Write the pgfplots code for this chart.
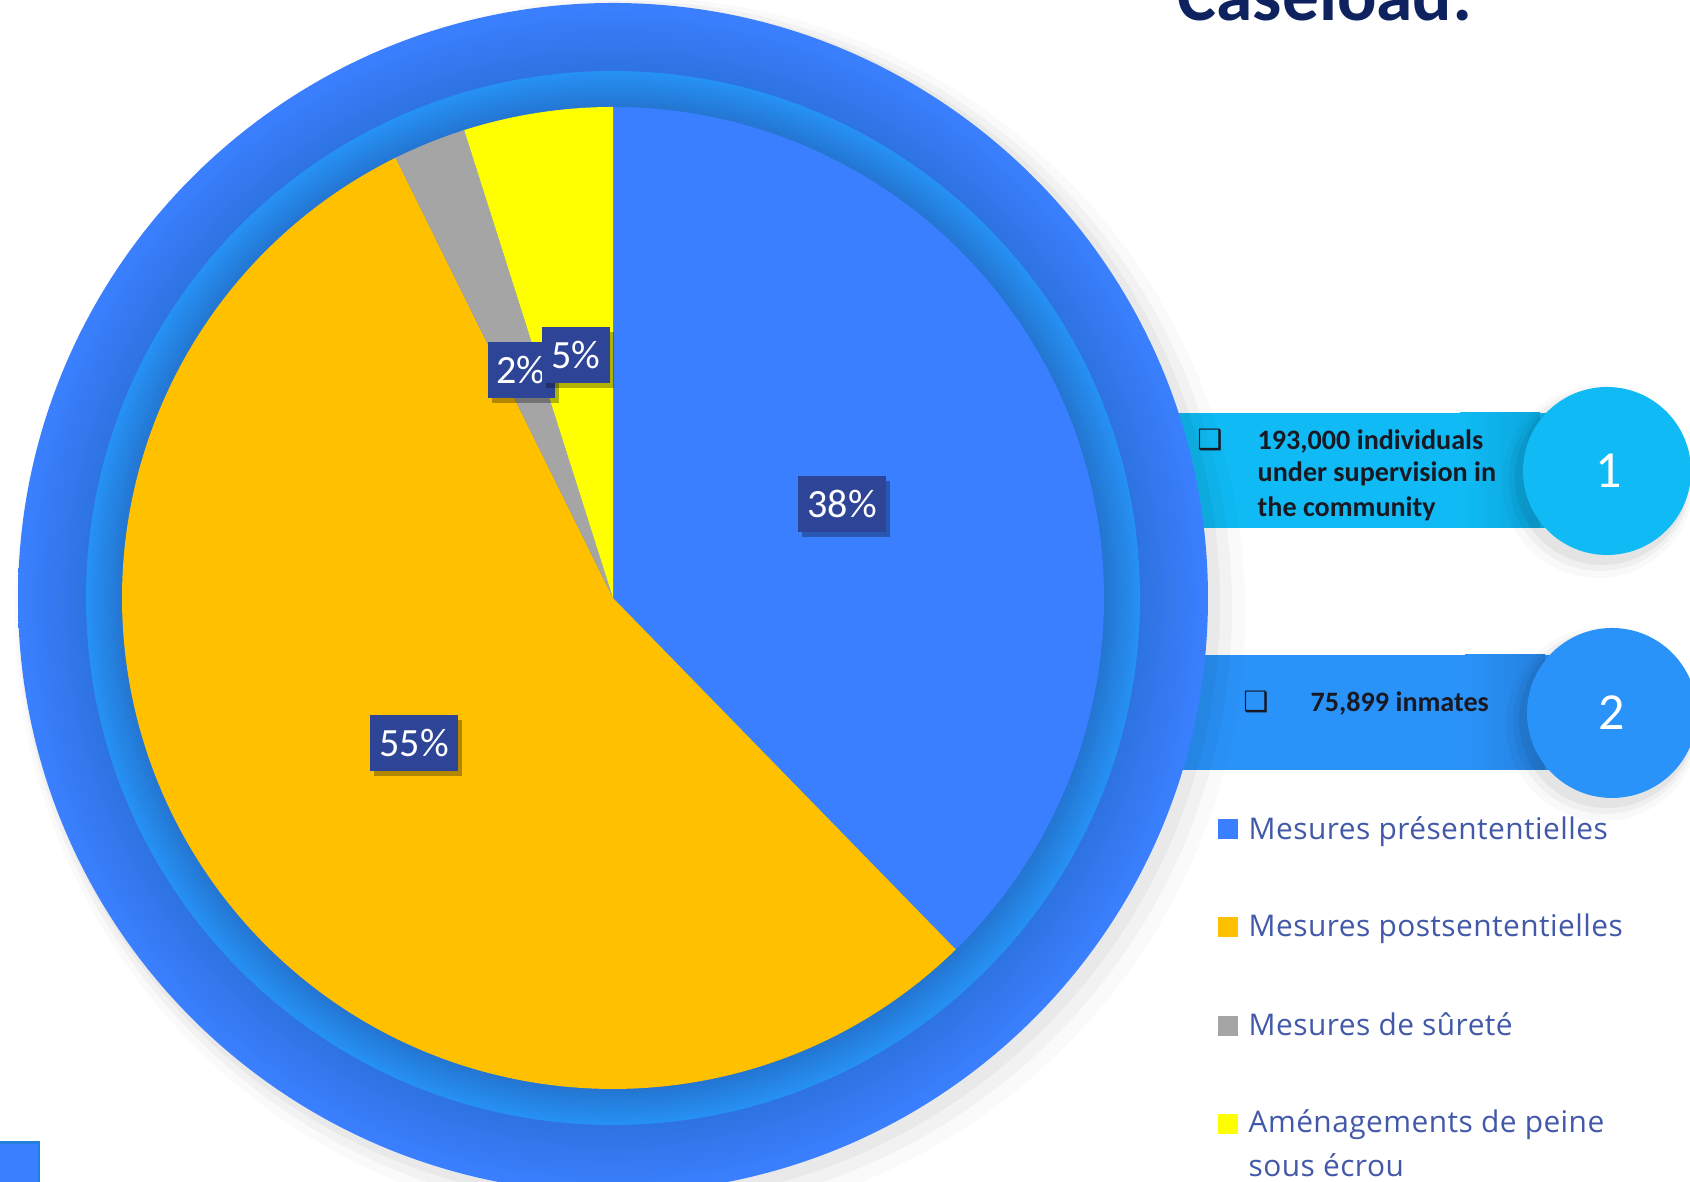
\documentclass[border=0pt]{standalone}
\usepackage{pgfplots}
\pgfplotsset{compat=1.18}
\usepackage{pgfplotstable}
\usetikzlibrary{shadows}
\usepackage{fontspec}
\setmainfont{Carlito}
\newfontfamily\osans[LetterSpace=1.5]{Open Sans}
\newfontfamily\djv{DejaVu Sans}
\definecolor{pieblue}{RGB}{58,127,255}
\definecolor{pieorange}{RGB}{255,192,0}
\definecolor{piegray}{RGB}{165,165,165}
\definecolor{pieyellow}{RGB}{255,255,0}
\definecolor{lblbox}{RGB}{46,68,150}
\definecolor{bandone}{RGB}{16,187,245}
\definecolor{bandonedark}{RGB}{12,165,220}
\definecolor{bandtwo}{RGB}{42,147,250}
\definecolor{bandtwodark}{RGB}{36,128,220}
\definecolor{legtext}{RGB}{66,88,168}
\definecolor{titlenavy}{RGB}{14,34,96}
\definecolor{bandtext}{RGB}{25,25,35}
\pgfdeclareradialshading{outerdisc}{\pgfpoint{0bp}{0bp}}{rgb(0bp)=(0.18,0.45,0.88); rgb(22.1bp)=(0.18,0.45,0.88); rgb(25bp)=(0.23,0.50,1.0); rgb(50bp)=(0.23,0.50,1.0)}
\pgfdeclareradialshading{ringdisc}{\pgfpoint{0bp}{0bp}}{rgb(0bp)=(0.14,0.46,0.82); rgb(23.3bp)=(0.14,0.46,0.82); rgb(25bp)=(0.15,0.57,0.96); rgb(50bp)=(0.15,0.57,0.96)}

\pgfplotstableread{
label value
pre 37.7
post 55.0
surete 2.4
amen 4.9
}\piedata
\pgfplotstablegetelem{0}{value}\of\piedata \let\vA\pgfplotsretval
\pgfplotstablegetelem{1}{value}\of\piedata \let\vB\pgfplotsretval
\pgfplotstablegetelem{2}{value}\of\piedata \let\vC\pgfplotsretval
\pgfplotstablegetelem{3}{value}\of\piedata \let\vD\pgfplotsretval
\pgfmathsetmacro\aA{90}
\pgfmathsetmacro\aB{\aA-3.6*\vA}
\pgfmathsetmacro\aC{\aB-3.6*\vB}
\pgfmathsetmacro\aD{\aC-3.6*\vC}
\pgfmathsetmacro\aE{\aD-3.6*\vD}
\newcommand\pct[1]{\pgfmathprintnumber[fixed,precision=0,assume math mode=true]{#1}\%}

\begin{document}%
\begin{tikzpicture}[
  lbl/.style={fill=lblbox, text=white, minimum height=0.56cm, inner sep=0pt,
    font=\fontsize{11.4pt}{13pt}\selectfont,
    drop shadow={shadow xshift=0.04cm, shadow yshift=-0.05cm, opacity=0.3, fill=black}},
  legtxt/.style={anchor=base west, inner sep=0pt, text=legtext, font=\osans\fontsize{8.5pt}{10pt}\selectfont},
  bandtxt/.style={anchor=base west, inner sep=0pt, text=bandtext, font=\bfseries\fontsize{8pt}{9.5pt}\selectfont},
]
\begin{axis}[
  scale only axis, width=16.9cm, height=11.82cm,
  xmin=0, xmax=1690, ymin=0, ymax=1182,
  hide axis, clip=true,
]
\coordinate (bl) at (axis cs:0,0);
\coordinate (tr) at (axis cs:1690,1182);
% bands behind the big circle
\fill[bandone] (axis cs:1150,654) rectangle (axis cs:1607,769);
\shade[left color=bandone, right color=bandonedark] (axis cs:1460,654) rectangle (axis cs:1540,769);
\fill[bandtwo] (axis cs:1150,412) rectangle (axis cs:1612,527);
\shade[left color=bandtwo, right color=bandtwodark] (axis cs:1465,412) rectangle (axis cs:1545,527);
% soft halo of big circle
\fill[black, opacity=0.02] (axis cs:630,570) circle[radius=6.15cm];
\fill[black, opacity=0.03] (axis cs:625,574) circle[radius=6.07cm];
\fill[black, opacity=0.04] (axis cs:620,578) circle[radius=6.00cm];
% big circle + ring
\shade[shading=outerdisc] (axis cs:613,584) circle[radius=5.95cm];
\shade[shading=ringdisc] (axis cs:613,584) circle[radius=5.27cm];
% pie slices
\fill[pieblue] (axis cs:613,584) -- ++(\aA:4.91cm) arc[start angle=\aA, end angle=\aB, radius=4.91cm] -- cycle;
\fill[pieorange] (axis cs:613,584) -- ++(\aB:4.91cm) arc[start angle=\aB, end angle=\aC, radius=4.91cm] -- cycle;
\fill[piegray] (axis cs:613,584) -- ++(\aC:4.91cm) arc[start angle=\aC, end angle=\aD, radius=4.91cm] -- cycle;
\fill[pieyellow] (axis cs:613,584) -- ++(\aD:4.91cm) arc[start angle=\aD, end angle=\aE, radius=4.91cm] -- cycle;
% data labels
\node[lbl, minimum width=0.88cm] at (axis cs:842,678) {\pct{\vA}};
\node[lbl, minimum width=0.88cm] at (axis cs:414,439) {\pct{\vB}};
\node[lbl, minimum width=0.67cm] at (axis cs:521,812) {\pct{\vC}};
\node[lbl, minimum width=0.68cm] at (axis cs:576,827) {\pct{\vD}};
% numbered circles with shadows
\fill[black, opacity=0.025] (axis cs:1598,700) circle[radius=0.96cm];
\fill[black, opacity=0.035] (axis cs:1600,702) circle[radius=0.91cm];
\fill[black, opacity=0.05] (axis cs:1602,704) circle[radius=0.87cm];
\fill[black, opacity=0.025] (axis cs:1603,458) circle[radius=0.97cm];
\fill[black, opacity=0.035] (axis cs:1605,460) circle[radius=0.92cm];
\fill[black, opacity=0.05] (axis cs:1607,462) circle[radius=0.88cm];
\fill[bandone] (axis cs:1607,711) circle[radius=0.84cm];
\fill[bandtwo] (axis cs:1612,469) circle[radius=0.85cm];
\node[text=white, font=\fontsize{14.8pt}{16pt}\selectfont] at (axis cs:1609,711) {1};
\node[text=white, font=\fontsize{14.8pt}{16pt}\selectfont] at (axis cs:1612,469) {2};
% band texts
\node[text=bandtext, font=\djv\fontsize{8pt}{9pt}\selectfont, inner sep=0pt] at (axis cs:1210,742) {❑};
\node[bandtxt] at (axis cs:1257,732) {193,000 individuals};
\node[bandtxt] at (axis cs:1257,700) {under supervision in};
\node[bandtxt] at (axis cs:1257,665) {the community};
\node[text=bandtext, font=\djv\fontsize{8pt}{9pt}\selectfont, inner sep=0pt] at (axis cs:1256,480) {❑};
\node[bandtxt] at (axis cs:1310,470) {75,899 inmates};
% legend
\fill[pieblue] (axis cs:1218,343) rectangle (axis cs:1238,363);
\node[legtxt] at (axis cs:1248,342) {Mesures présententielles};
\fill[pieorange] (axis cs:1218,245) rectangle (axis cs:1238,265);
\node[legtxt] at (axis cs:1248,245) {Mesures postsententielles};
\fill[piegray] (axis cs:1218,146) rectangle (axis cs:1238,166);
\node[legtxt] at (axis cs:1248,146) {Mesures de sûreté};
\fill[pieyellow] (axis cs:1218,48) rectangle (axis cs:1238,68);
\node[legtxt] at (axis cs:1248,49) {Aménagements de peine};
\node[legtxt] at (axis cs:1248,5) {sous écrou};
% title (cut at top, as in the original)
\node[anchor=base west, inner sep=0pt, text=titlenavy, font=\bfseries\fontsize{20.9pt}{24pt}\selectfont] at (axis cs:1177,1161) {Caseload:};
% bottom-left square
\filldraw[fill=pieblue, draw=bandtwodark, line width=0.03cm] (axis cs:-10,-10) rectangle (axis cs:39,39);
\end{axis}
\pgfresetboundingbox
\useasboundingbox (bl) rectangle (tr);
\end{tikzpicture}%
\end{document}
